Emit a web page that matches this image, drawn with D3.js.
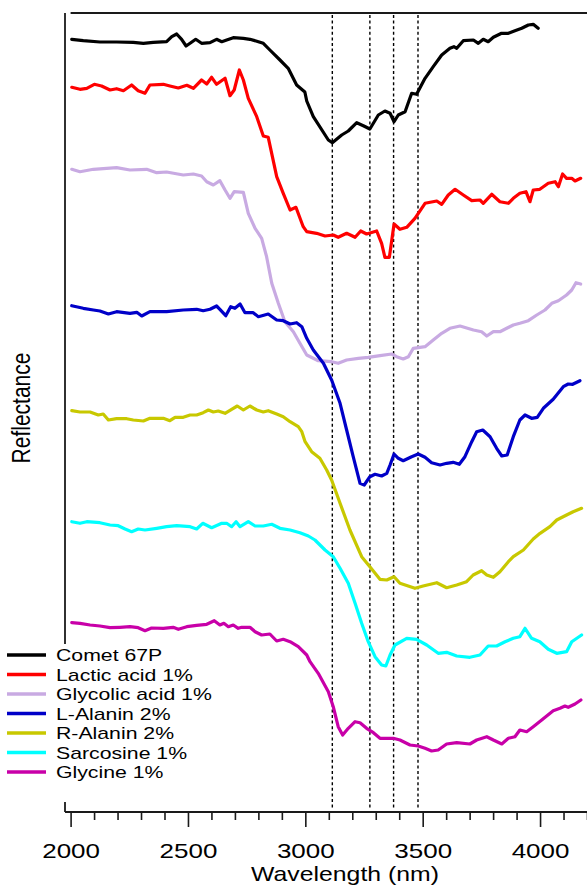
<!DOCTYPE html>
<html>
<head>
<meta charset="utf-8">
<script src="https://cdn.jsdelivr.net/npm/d3@7"></script>
<style>
  html, body { margin: 0; padding: 0; background: #fff; }
  svg { display: block; }
  text { font-family: "Liberation Sans", Arial, sans-serif; fill: #000; }
</style>
</head>
<body>
<svg id="chart" width="587" height="885"></svg>
<script>
// Reflectance spectra (stacked, arbitrary offset units) against wavelength in nm.
const seriesNames = ["Comet 67P", "Lactic acid 1%", "Glycolic acid 1%", "L-Alanin 2%", "R-Alanin 2%", "Sarcosine 1%", "Glycine 1%"];
const seriesColors = ["#000000", "#ff0000", "#c8aae2", "#0000c8", "#c8c800", "#00ffff", "#c800a8"];

const comet67P = [[2005,772.7],[2054,771.3],[2125,770],[2196,770],[2267,769.7],[2310,768.7],[2352,769.7],[2409,770.3],[2431,775.3],[2452,778],[2473,772.7],[2492,766],[2512,769.3],[2533,772.7],[2558,768.7],[2594,769.3],[2622,772.7],[2644,770.3],[2665,772],[2693,774.3],[2736,773.7],[2764,772.7],[2800,770.3],[2821,768.7],[2849,762],[2892,752],[2927,743.7],[2963,727],[2998,720],[3006,711],[3034,695.3],[3098,672],[3115,669.3],[3155,677],[3183,681],[3219,689.3],[3247,686.3],[3275,683],[3311,697],[3339,701],[3361,698.7],[3378,690.3],[3396,697],[3425,700.3],[3453,718.7],[3474,717.7],[3510,733.7],[3545,745.3],[3581,757],[3616,763.7],[3633,765.3],[3645,763.7],[3673,771.3],[3716,772],[3737,768.7],[3758,772.7],[3779,770.3],[3801,774.7],[3836,778.7],[3865,778.7],[3893,781.3],[3922,783.7],[3950,787],[3971,787.7],[3992,783.7]];

const lacticAcid = [[2005,724.7],[2040,722.7],[2069,723.7],[2101,727.7],[2132,726],[2168,722],[2196,723.3],[2225,721.3],[2260,727],[2288,721.3],[2317,718.7],[2338,727],[2395,727.7],[2423,726],[2459,724],[2495,726.7],[2523,723.7],[2558,732],[2580,728],[2601,734.7],[2622,727.7],[2658,733.7],[2679,716.3],[2697,722],[2719,742],[2736,732],[2757,713.7],[2793,695.3],[2821,676],[2842,674.7],[2878,635.3],[2906,618.7],[2935,602],[2960,604.7],[2991,585.3],[3006,580.3],[3048,578.7],[3084,576],[3119,577],[3140,574.7],[3176,578.7],[3212,574.7],[3236,581],[3261,578],[3304,581],[3325,568.7],[3339,554.7],[3358,554.7],[3378,588],[3403,582.7],[3432,584.7],[3467,593.7],[3510,608.7],[3560,611],[3581,607.7],[3609,617],[3638,622.7],[3673,617],[3709,611.3],[3744,612],[3758,608.7],[3794,617.7],[3829,610.3],[3865,608.7],[3886,613.7],[3914,618.7],[3940,620.3],[3957,610.3],[3971,622],[3999,622.7],[4035,628.7],[4064,630.3],[4078,625.3],[4096,638],[4113,633.7],[4135,633.7],[4149,631],[4173,633.7]];

const glycolicAcid = [[2005,642.7],[2040,640.3],[2097,642.7],[2196,644.3],[2253,642],[2324,642.7],[2367,639.3],[2409,640],[2480,637],[2523,638],[2558,636],[2580,630.3],[2608,627],[2636,631.3],[2658,622],[2679,613.7],[2697,620.3],[2736,619.7],[2757,598.7],[2786,583.7],[2814,573.7],[2835,555.3],[2857,528.7],[2885,508.7],[2913,490.3],[2949,480.3],[2977,468.7],[3006,457],[3055,451.3],[3112,450.3],[3140,448.7],[3176,452],[3226,453.7],[3268,454.7],[3318,456.3],[3368,458],[3389,455.3],[3417,453],[3439,455.3],[3460,463.7],[3510,465.3],[3545,472],[3581,478.7],[3616,483.7],[3659,486],[3716,482],[3751,480.3],[3773,476],[3801,480.3],[3829,480.3],[3858,483.7],[3886,487],[3914,488.7],[3950,491.3],[3986,497],[4021,502],[4050,508.7],[4078,511.3],[4113,517],[4135,522],[4153,529.3],[4173,528]];

const lAlanin = [[2005,506.3],[2054,503.7],[2097,502],[2125,501],[2161,498],[2196,500.3],[2253,498.7],[2282,499.7],[2303,496],[2338,500.3],[2409,500.3],[2480,502],[2537,502.7],[2565,501.3],[2594,502.7],[2622,506],[2636,502.7],[2661,496.3],[2682,505.3],[2700,503.7],[2722,508],[2743,499.3],[2778,499.3],[2800,495.3],[2842,498],[2878,492],[2906,491.3],[2935,488],[2963,489.3],[2985,485.3],[3006,473.7],[3034,462],[3077,448.7],[3112,432],[3148,408.7],[3176,382],[3204,355.3],[3233,328.7],[3251,327],[3275,335.3],[3297,337.7],[3325,336],[3347,338.7],[3361,347],[3378,358],[3396,353.7],[3417,351.3],[3453,355.3],[3481,358],[3510,354.7],[3538,349.3],[3574,347],[3602,348.7],[3630,349.7],[3656,347.7],[3680,355.3],[3709,370.3],[3730,380.3],[3756,382],[3787,375.3],[3815,363.7],[3837,356],[3860,357],[3886,375.3],[3914,392],[3936,397],[3964,393.7],[3988,394.7],[4014,403.7],[4056,412.7],[4099,425.3],[4120,428],[4139,427.7],[4170,431.3]];

const rAlanin = [[2005,401.3],[2040,400],[2083,400],[2118,397],[2139,398],[2161,392],[2196,393.3],[2239,393.3],[2267,392],[2310,391],[2338,393.7],[2395,393.7],[2423,391.3],[2445,394.7],[2480,394.7],[2509,397],[2537,397],[2565,399.3],[2587,402],[2608,400],[2629,401],[2658,398.7],[2686,402.7],[2710,406],[2736,402],[2764,406],[2793,402],[2821,400],[2842,401.3],[2878,398],[2906,395.3],[2935,390.3],[2970,385.3],[2985,380.3],[2999,370.3],[3027,360.3],[3062,353.7],[3091,342],[3112,332],[3148,308.7],[3190,282],[3240,255.3],[3275,245.3],[3318,232.7],[3347,232],[3378,235.3],[3403,228.7],[3467,223.7],[3502,226],[3560,229.3],[3602,224.3],[3645,227],[3687,230.3],[3715,237],[3751,241.3],[3773,237],[3801,234.7],[3829,240.3],[3865,250.3],[3886,255.3],[3929,262],[3971,273],[4000,278.7],[4042,285.3],[4071,292],[4113,297],[4141,300.3],[4177,303.7]];

const sarcosine = [[2005,290.3],[2040,288.7],[2069,290.3],[2125,289.3],[2168,287],[2203,286.3],[2232,283],[2260,280.3],[2288,283],[2317,282],[2367,283.7],[2409,285.3],[2452,286.3],[2509,285.3],[2537,283],[2563,288.7],[2601,284.3],[2644,288.7],[2665,288.7],[2686,285.3],[2705,290.3],[2722,285.3],[2757,290.3],[2786,286],[2821,286],[2857,287.7],[2892,283.7],[2935,282],[2977,279.3],[3013,276],[3041,272],[3084,262],[3119,255.3],[3148,243.7],[3183,228.7],[3212,208.7],[3240,188.7],[3268,170.3],[3297,155.3],[3325,147],[3343,146],[3361,157],[3382,167],[3432,173.7],[3474,172.7],[3517,167],[3566,158.7],[3602,159.7],[3645,156],[3701,154.7],[3744,157],[3779,166],[3815,166],[3851,170.3],[3886,173.7],[3914,175.3],[3936,183.7],[3964,173.7],[3999,170.3],[4035,162.7],[4071,158.7],[4113,160.3],[4135,170.3],[4177,177]];

const glycine = [[2005,189.3],[2040,188.7],[2083,187],[2125,186],[2168,184.3],[2210,184.7],[2253,185.3],[2288,184.3],[2317,181.3],[2345,184],[2395,183.7],[2437,184.7],[2459,182.7],[2495,185.3],[2537,186.7],[2580,187.7],[2612,191.3],[2636,187],[2653,188.7],[2672,185.3],[2693,187],[2714,183.7],[2729,184.7],[2764,184.7],[2786,180.3],[2814,177],[2849,178],[2878,171],[2906,172.7],[2935,170.3],[2970,165.3],[3006,157],[3020,150.3],[3055,138.7],[3098,120.3],[3119,105.3],[3140,85.3],[3159,77],[3183,83.7],[3212,90.3],[3233,89.3],[3261,83.7],[3290,79.3],[3318,73.7],[3375,73.7],[3403,72],[3446,67],[3481,66],[3510,63.7],[3538,61],[3566,62],[3602,68],[3645,69.3],[3701,68],[3730,72],[3773,75.3],[3801,72],[3837,68],[3865,73.7],[3893,75.3],[3914,82],[3943,80.3],[3971,85.3],[4007,92],[4056,101.3],[4085,103.7],[4106,106],[4120,104.7],[4149,108],[4174,112]];

const seriesData = [comet67P, lacticAcid, glycolicAcid, lAlanin, rAlanin, sarcosine, glycine];

// Band positions marked by dotted verticals (nm)
const bandWavelengths = [3115, 3275, 3376, 3480];

const majorTicks = [2000, 2500, 3000, 3500, 4000];
const minorTicks = [2100, 2200, 2300, 2400, 2600, 2700, 2800, 2900, 3100, 3200, 3300, 3400, 3600, 3700, 3800, 3900, 4100, 4200];

const xTitle = "Wavelength (nm)";
const yTitle = "Reflectance";

// ---- layout ----
const svg = d3.select("#chart");
const axisY = 812, topY = 13, leftX = 65, rightX = 587;
const stretch = 1.25; // wide type face

const x = d3.scaleLinear().domain([2000, 4200]).range([70.6, 587]);
const y = d3.scaleLinear().domain([0, 800]).range([812, 12]);

// frame: top line and left spine
svg.append("line").attr("x1", x(2000)).attr("x2", rightX).attr("y1", topY).attr("y2", topY)
  .attr("stroke", "#1a1a1a").attr("stroke-width", 1.8);
svg.append("line").attr("x1", leftX).attr("x2", leftX).attr("y1", topY).attr("y2", axisY)
  .attr("stroke", "#1a1a1a").attr("stroke-width", 1.8);

// dotted band markers
svg.append("g").selectAll("line").data(bandWavelengths).join("line")
  .attr("x1", d => x(d)).attr("x2", d => x(d))
  .attr("y1", topY + 2).attr("y2", axisY - 3)
  .attr("stroke", "#000").attr("stroke-width", 1.4)
  .attr("stroke-dasharray", "3,2.6");

// spectra
const line = d3.line().x(d => x(d[0])).y(d => y(d[1])).curve(d3.curveLinear);
svg.append("g").selectAll("path").data(seriesData).join("path")
  .attr("d", line)
  .attr("fill", "none")
  .attr("stroke", (d, i) => seriesColors[i])
  .attr("stroke-width", 3.2)
  .attr("stroke-linejoin", "round")
  .attr("stroke-linecap", "round");

// x axis
const gx = svg.append("g").attr("transform", `translate(0,${axisY})`);
gx.append("line").attr("x1", leftX).attr("x2", rightX).attr("y1", 0).attr("y2", 0)
  .attr("stroke", "#1a1a1a").attr("stroke-width", 1.8);

const minorAxis = d3.axisBottom(x).tickValues(minorTicks).tickSize(8).tickFormat("");
const gMinor = gx.append("g").call(minorAxis);
gMinor.select(".domain").remove();
gMinor.selectAll(".tick line").attr("stroke", "#1a1a1a").attr("stroke-width", 1.6);

const majorAxis = d3.axisBottom(x).tickValues(majorTicks).tickSize(15).tickPadding(17).tickFormat(d3.format("d"));
const gMajor = gx.append("g").call(majorAxis);
gMajor.select(".domain").remove();
gMajor.selectAll(".tick line").attr("stroke", "#1a1a1a").attr("stroke-width", 1.6);
gMajor.selectAll(".tick text")
  .attr("font-size", 20)
  .attr("font-family", "'Liberation Sans', Arial, sans-serif")
  .attr("fill", "#000")
  .attr("transform", `scale(1.3,1)`);

// axis titles
svg.append("text")
  .attr("transform", `translate(345,881) scale(1.24,1)`)
  .attr("text-anchor", "middle").attr("font-size", 20)
  .text(xTitle);

svg.append("text")
  .attr("transform", `translate(30,408) scale(${stretch},1) rotate(-90)`)
  .attr("text-anchor", "middle").attr("font-size", 21)
  .text(yTitle);

// legend on white panel
const legend = svg.append("g");
legend.append("rect").attr("x", 0).attr("y", 644).attr("width", 245).attr("height", 158).attr("fill", "#fff");
const rowY0 = 655, rowStep = 19.5;
const rows = legend.selectAll("g.row").data(seriesNames).join("g").attr("class", "row")
  .attr("transform", (d, i) => `translate(0,${rowY0 + i * rowStep})`);
rows.append("line").attr("x1", 7).attr("x2", 46).attr("y1", 0).attr("y2", 0)
  .attr("stroke", (d, i) => seriesColors[i]).attr("stroke-width", 3.5);
rows.append("text")
  .attr("transform", `translate(56,6) scale(${stretch},1)`)
  .attr("font-size", 17)
  .text(d => d);
</script>
</body>
</html>
